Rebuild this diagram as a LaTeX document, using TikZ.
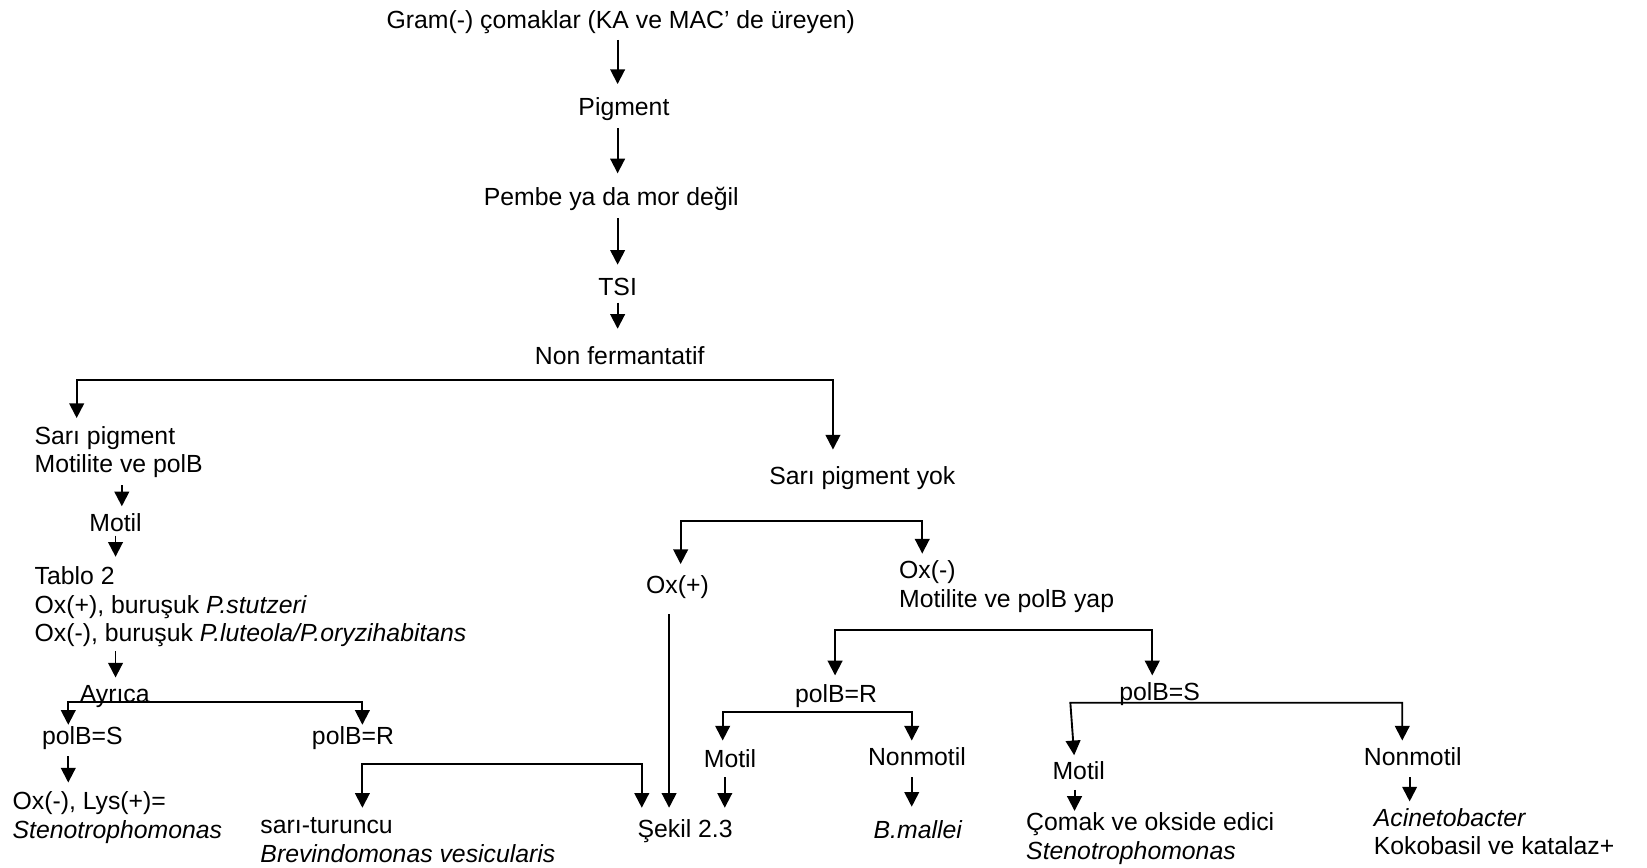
\documentclass[tikz,border=0pt]{standalone}
\usepackage{fontspec}
\setmainfont{Liberation Sans}
\usetikzlibrary{arrows.meta}
\begin{document}
\begin{tikzpicture}[x=0.5pt,y=-0.5pt,
  txt/.style={inner sep=0pt,outer sep=0pt,yshift=-1.5pt,font=\fontsize{11.8}{13.5}\selectfont},
  one/.style={txt,text height=9pt,text depth=3pt,anchor=base},
  onel/.style={one,anchor=base west},
  multi/.style={txt,anchor=north west,align=left},
  ln/.style={line width=0.9pt},
  arr/.style={ln,-{Triangle[width=7pt,length=7pt]}},
  arrb/.style={ln,{Triangle[width=7pt,length=7pt]}-{Triangle[width=7pt,length=7pt]}},
  gap/.style 2 args={shorten <=#1,shorten >=#2}]
\useasboundingbox (0,0) rectangle (1568,826);

% columns
\coordinate (cA) at (588,0);
\coordinate (cB) at (116,0);
\coordinate (cC) at (110,0);
\coordinate (cD) at (65,0);
\coordinate (cE) at (637,0);
\coordinate (cF) at (690,0);
\coordinate (cG) at (868,0);
\coordinate (cH) at (1023,0);
\coordinate (cI) at (1342,0);

% nodes
\node[one] (gram) at (591,24) {Gram(-) çomaklar (KA ve MAC’ de üreyen)};
\node[one] (pig) at (594,107) {Pigment};
\node[one] (pembe) at (582,193) {Pembe ya da mor değil};
\node[one] (tsi) at (588,278) {TSI};
\node[one] (nonf) at (590,344) {Non fermantatif};
\node[multi] (sari) at (33,401) {\strut Sarı pigment\\\strut Motilite ve polB};
\node[one] (motilL) at (110,503) {Motil};
\node[multi] (tablo) at (33,535) {\strut Tablo 2\\Ox(+), buruşuk \textit{P.stutzeri}\\\strut Ox(-), buruşuk \textit{P.luteola/P.oryzihabitans}};
\node[onel] (ayrica) at (76,666) {Ayrıca};
\node[onel] (polbSL) at (40,706) {polB=S};
\node[onel] (polbRL) at (297,706) {polB=R};
\node[multi] (steno1) at (12,749) {\strut Ox(-), Lys(+)=\\\strut\textit{Stenotrophomonas}};
\node[multi] (brev) at (248,772) {\strut sarı-turuncu\\\strut\textit{Brevindomonas vesicularis}};
\node[onel] (sekil) at (607,794) {Şekil 2.3};
\node[one] (yok) at (821,458) {Sarı pigment yok};
\node[one] (oxp) at (645,562) {Ox(+)};
\node[multi] (oxm) at (856,529) {\strut Ox(-)\\\strut Motilite ve polB yap};
\node[one] (polbRM) at (796,666) {polB=R};
\node[one] (polbSR) at (1104,664) {polB=S};
\node[one] (motilM) at (695,728) {Motil};
\node[one] (nonmM) at (873,726) {Nonmotil};
\node[one] (mallei) at (874,795) {\textit{B.mallei}};
\node[one] (motilR) at (1027,739) {Motil};
\node[multi] (comak) at (977,769) {\strut Çomak ve okside edici\\\strut\textit{Stenotrophomonas}};
\node[one] (nonmR) at (1345,726) {Nonmotil};
\node[multi] (acin) at (1308,765) {\strut\textit{Acinetobacter}\\\strut Kokobasil ve katalaz+};

% junctions
\coordinate (j1L) at (73,362);   \coordinate (j1R) at (793,362);
\coordinate (j2L) at (65,668);   \coordinate (j2R) at (345,668);
\coordinate (j3L) at (345,727);  \coordinate (j3R) at (611,727);
\coordinate (j4L) at (648,496);  \coordinate (j4R) at (878,496);
\coordinate (j5L) at (795,600);  \coordinate (j5R) at (1097,600);
\coordinate (j6L) at (688,678);  \coordinate (j6R) at (868,678);
\coordinate (j7L) at (1019,669); \coordinate (j7R) at (1335,669);

% main stem
\draw[arr,gap={2.5pt}{6pt}] (gram.south -| cA) -- (pig.north -| cA);
\draw[arr,gap={3pt}{6.5pt}] (pig.south -| cA) -- (pembe.north -| cA);
\draw[arr,gap={3pt}{5.5pt}] (pembe.south -| cA) -- (tsi.north -| cA);
\draw[arr,gap={0.5pt}{8pt}] (tsi.south -| cA) -- (nonf.north -| cA);

% first split
\draw[arrb,gap={3pt}{7.5pt}] (j1L |- sari.north) |- (j1R) -- (j1R |- yok.north);

% left branch
\draw[arr,gap={2pt}{3pt}] (sari.south -| cB) -- (motilL.north -| cB);
\draw[arr,gap={-1pt}{4pt}] (motilL.south -| cC) -- (tablo.north -| cC);
\draw[arr,gap={0.5pt}{3pt}] (tablo.south -| cC) -- (ayrica.north -| cC);
\draw[arrb,gap={0.5pt}{0.5pt}] (j2L |- polbSL.north) |- (j2R) -- (j2R |- polbRL.north);
\draw[arr,gap={2.5pt}{3.5pt}] (polbSL.south -| cD) -- (steno1.north -| cD);
\draw[arrb,gap={3pt}{5pt}] (j3L |- brev.north) |- (j3R) -- (j3R |- sekil.north);

% right branch
\draw[arrb,gap={5pt}{2.5pt}] (j4L |- oxp.north) |- (j4R) -- (j4R |- oxm.north);
\draw[arr,gap={7pt}{5pt}] (oxp.south -| cE) -- (sekil.north -| cE);
\draw[arrb,gap={4pt}{3pt}] (j5L |- polbRM.north) |- (j5R) -- (j5R |- polbSR.north);
\draw[arrb,gap={4pt}{3pt}] (j6L |- motilM.north) |- (j6R) -- (j6R |- nonmM.north);
\draw[arr,gap={1.5pt}{5pt}] (motilM.south -| cF) -- (sekil.north -| cF);
\draw[arr,gap={2.5pt}{6pt}] (nonmM.south -| cG) -- (mallei.north -| cG);
\draw[arrb,gap={2.5pt}{3pt}] (motilR.north -| cH) -- (j7L) -- (j7R) -- (j7R |- nonmR.north);
\draw[arr,gap={2pt}{0pt}] (motilR.south -| cH) -- (comak.north -| cH);
\draw[arr,gap={2.5pt}{2.5pt}] (nonmR.south -| cI) -- (acin.north -| cI);
\end{tikzpicture}
\end{document}
